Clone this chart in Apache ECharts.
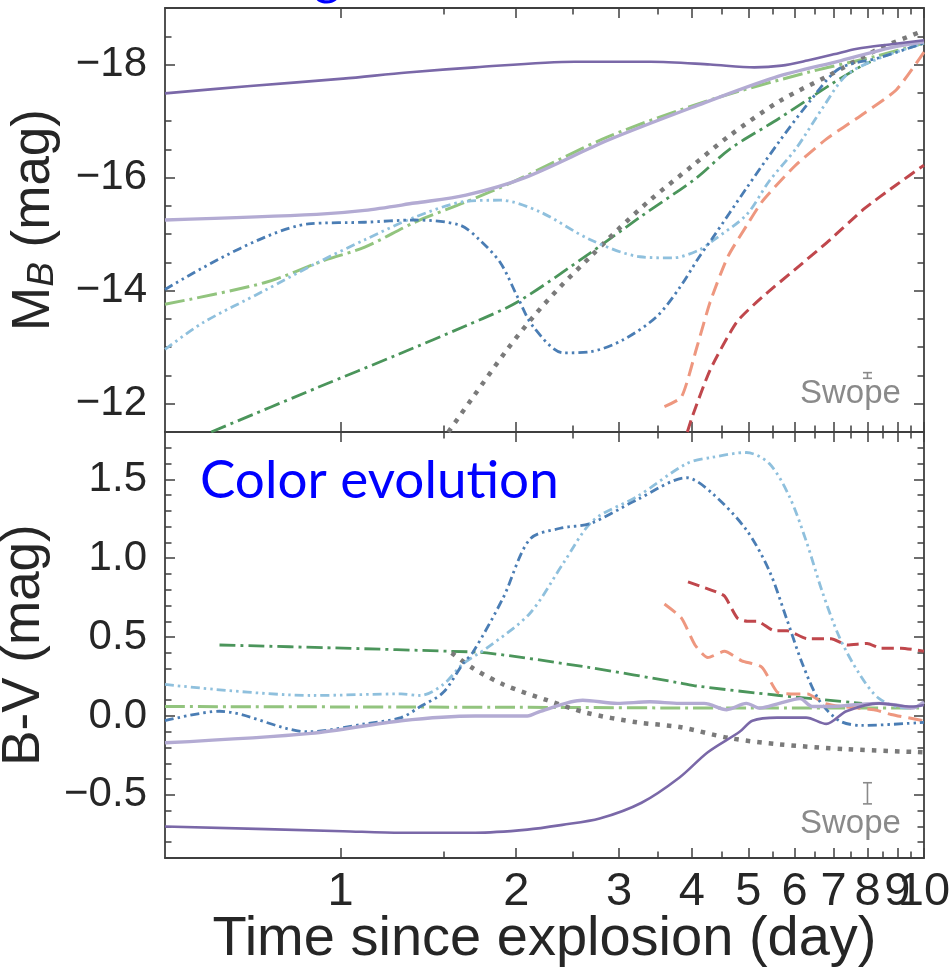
<!DOCTYPE html>
<html><head><meta charset="utf-8">
<script src="https://cdn.jsdelivr.net/npm/echarts@6/dist/echarts.min.js"></script>
<style>html,body{margin:0;padding:0;background:#fff}#c{width:950px;height:973px}</style>
</head><body><div id="c"></div>
<script>
// ---------- axis data ----------
const xMin = 0.5, xMax = 10;
const xMajorTicks = [1, 2, 3, 4, 5, 6, 7, 8, 9, 10];
const xTickLabels = ['1', '2', '3', '4', '5', '6', '7', '8', '9', '10'];
const xMinorTicks = [1.5, 2.5, 3.5, 4.5, 5.5, 6.5, 7.5, 8.5, 9.5];
const mbMin = -19, mbMax = -11.5;
const mbMajorTicks = [-18, -16, -14, -12];
const mbTickLabels = ['\u221218', '\u221216', '\u221214', '\u221212'];
const mbMinorTicks = [-18.5, -17.5, -17, -16.5, -15.5, -15, -14.5, -13.5, -13, -12.5];
const bvMin = -0.9, bvMax = 1.8;
const bvMajorTicks = [-0.5, 0, 0.5, 1.0, 1.5];
const bvTickLabels = ['\u22120.5', '0.0', '0.5', '1.0', '1.5'];
const bvMinorTicks = [-0.8, -0.7, -0.6, -0.4, -0.3, -0.2, -0.1, 0.1, 0.2, 0.3, 0.4, 0.6, 0.7, 0.8, 0.9, 1.1, 1.2, 1.3, 1.4, 1.6, 1.7];

// ---------- series data: [day, value] ----------
const darkPurpleMB = [[0.5,-17.49],[0.7,-17.62],[1.01,-17.75],[1.3,-17.86],[1.7,-17.95],[2.52,-18.05],[3.4,-18.05],[4.3,-18.0],[5.12,-17.95],[5.7,-17.98],[6.31,-18.07],[7.0,-18.18],[7.68,-18.28],[8.8,-18.36],[10,-18.43]];
const lightPurpleMB = [[0.5,-15.25],[0.91,-15.35],[1.1,-15.42],[1.34,-15.55],[1.64,-15.69],[2.07,-16.0],[2.87,-16.66],[4.0,-17.24],[5.54,-17.77],[7.21,-18.07],[8.78,-18.3],[10,-18.4]];
const lightGreenMB = [[0.5,-13.76],[0.74,-14.14],[0.94,-14.54],[1.1,-14.77],[1.34,-15.21],[1.64,-15.57],[2.0,-15.95],[2.87,-16.72],[4.26,-17.36],[6.31,-17.86],[8.3,-18.15],[10,-18.38]];
const darkGreenMB = [[0.6,-11.5],[0.91,-12.28],[1.26,-12.88],[1.64,-13.38],[2.01,-13.8],[2.68,-14.67],[3.26,-15.3],[4.08,-16.0],[4.64,-16.5],[5.65,-17.05],[6.88,-17.63],[7.83,-17.98],[8.1,-18.05]];
const darkBlueMB = [[0.5,-14.02],[0.88,-15.18],[1.1,-15.21],[1.34,-15.25],[1.6,-15.16],[1.73,-14.9],[1.88,-14.49],[2.01,-13.89],[2.14,-13.36],[2.41,-12.9],[2.68,-12.92],[3.05,-13.13],[3.48,-13.54],[3.81,-14.05],[4.12,-14.6],[4.34,-14.93],[4.96,-15.81],[5.65,-16.64],[6.43,-17.4],[7.16,-17.93],[8.38,-18.12],[10,-18.38]];
const lightBlueMB = [[0.5,-12.96],[0.58,-13.43],[0.74,-14.0],[0.91,-14.49],[1.1,-14.9],[1.34,-15.3],[1.64,-15.58],[1.88,-15.6],[2.2,-15.39],[2.68,-14.9],[3.26,-14.6],[3.71,-14.58],[4.12,-14.72],[4.34,-14.88],[4.96,-15.34],[5.43,-15.94],[6.04,-16.52],[6.69,-17.22],[7.36,-17.81],[8.38,-18.11],[10,-18.38]];
const grayMB = [[1.53,-11.5],[1.69,-12.13],[1.93,-12.96],[2.14,-13.54],[2.38,-14.07],[2.68,-14.6],[2.98,-15.07],[3.39,-15.6],[4.02,-16.22],[4.64,-16.74],[5.65,-17.35],[6.88,-17.81],[8.38,-18.28],[10,-18.6]];
const salmonMB = [[3.59,-11.95],[3.84,-12.12],[4.08,-13.0],[4.3,-13.8],[4.61,-14.6],[5.0,-15.2],[5.3,-15.6],[6.0,-16.2],[6.8,-16.68],[7.8,-17.1],[8.96,-17.55],[10,-18.22]];
const darkRedMB = [[3.93,-11.5],[4.0,-11.75],[4.3,-12.6],[4.78,-13.45],[5.3,-13.9],[6.1,-14.43],[6.9,-14.9],[7.9,-15.45],[8.96,-15.87],[10,-16.22]];

const darkPurpleBV = [[0.5,-0.70],[1.01,-0.73],[1.27,-0.74],[1.7,-0.74],[2.09,-0.72],[2.4,-0.69],[2.78,-0.65],[3.28,-0.55],[3.81,-0.39],[4.26,-0.23],[4.83,-0.10],[5.08,-0.03],[5.6,-0.01],[6.28,-0.01],[6.8,-0.05],[7.36,0.03],[8.38,0.08],[9.54,0.06],[10,0.07]];
const lightPurpleBV = [[0.5,-0.17],[0.89,-0.11],[1.27,-0.03],[1.7,0.0],[2.09,0.0],[2.2,0.03],[2.6,0.10],[2.98,0.08],[3.39,0.09],[3.81,0.08],[4.2,0.08],[4.59,0.04],[4.96,0.08],[5.23,0.05],[5.65,0.08],[6.13,0.11],[6.43,0.06],[6.88,0.06],[7.53,0.07],[8.38,0.08],[8.96,0.07],[9.54,0.05],[10,0.09]];
const lightGreenBV = [[0.5,0.06],[2.0,0.055],[5.0,0.05],[10,0.05]];
const darkGreenBV = [[0.62,0.45],[1.01,0.43],[1.54,0.41],[1.78,0.40],[2.64,0.31],[3.81,0.21],[4.08,0.19],[5.65,0.13],[7.83,0.08]];
const darkBlueBV = [[0.5,-0.03],[0.62,0.03],[0.88,-0.10],[1.1,-0.05],[1.27,-0.01],[1.37,0.06],[1.5,0.15],[1.62,0.33],[1.69,0.41],[1.9,0.75],[2.11,1.12],[2.38,1.19],[2.68,1.22],[3.22,1.37],[3.92,1.51],[4.34,1.41],[4.96,1.18],[5.43,0.92],[5.81,0.62],[6.19,0.33],[6.61,0.10],[7.16,-0.03],[7.83,-0.06],[10,-0.04]];
const lightBlueBV = [[0.5,0.20],[0.89,0.13],[1.27,0.14],[1.37,0.13],[1.5,0.2],[1.62,0.33],[1.78,0.43],[2.11,0.65],[2.41,0.97],[2.71,1.24],[3.22,1.39],[3.92,1.60],[4.34,1.64],[4.96,1.67],[5.43,1.60],[5.88,1.39],[6.28,1.11],[6.69,0.79],[7.16,0.50],[7.74,0.27],[8.38,0.11],[9.32,0.05],[10,0.07]];
const grayBV = [[1.55,0.40],[1.69,0.30],[1.9,0.20],[2.26,0.10],[2.64,0.02],[3.22,-0.04],[3.81,-0.07],[4.64,-0.14],[5.65,-0.18],[7.36,-0.21],[10,-0.23]];
const salmonBV = [[3.59,0.71],[3.84,0.62],[4.05,0.45],[4.26,0.37],[4.55,0.41],[4.87,0.35],[5.27,0.31],[5.61,0.15],[5.93,0.14],[6.31,0.14],[6.75,0.08],[7.21,0.06],[8.21,0.04],[8.78,0.01],[10,-0.03]];
const darkRedBV = [[3.94,0.85],[4.38,0.79],[4.55,0.76],[4.79,0.62],[4.98,0.60],[5.18,0.60],[5.54,0.54],[5.83,0.54],[6.31,0.49],[6.93,0.49],[7.39,0.45],[7.99,0.46],[8.44,0.43],[9.13,0.43],[10,0.41]];

// Swope error bars: [day, centre, half-error]
const swopeErrMB = [[8.0, -12.5, 0.05]];
const swopeErrBV = [[8.0, -0.49, 0.067]];

// ---------- styling ----------
const FONT = '"Liberation Sans", Arial, Helvetica, sans-serif';
const AX = '#3f3f3f';
const TXT = '#262626';
const styles = {
  darkPurple: {color: '#7a68a8', width: 2.6, type: 'solid', smooth: 0.3},
  lightPurple: {color: '#b3abd3', width: 3.4, type: 'solid', smooth: 0.3},
  lightGreen: {color: '#92c47e', width: 3, type: [20, 5, 3, 5], smooth: 0.3},
  darkGreen: {color: '#4b955b', width: 2.8, type: [16, 5, 3, 5], smooth: 0.3},
  darkBlue: {color: '#4a7db4', width: 2.8, type: [9, 4, 2.5, 4, 2.5, 4], smooth: 0.3},
  lightBlue: {color: '#8fc0dd', width: 2.8, type: [9, 4, 2.5, 4, 2.5, 4], smooth: 0.3},
  gray: {color: '#7a7a7a', width: 4.5, type: [4.5, 7], smooth: 0.3},
  salmon: {color: '#ee977f', width: 3, type: [14, 7], smooth: 0.2},
  darkRed: {color: '#c0474c', width: 3, type: [12, 6], smooth: 0.2}
};
const seriesDefs = [
  ['darkGreen', darkGreenMB, darkGreenBV],
  ['lightGreen', lightGreenMB, lightGreenBV],
  ['gray', grayMB, grayBV],
  ['darkRed', darkRedMB, darkRedBV],
  ['salmon', salmonMB, salmonBV],
  ['lightBlue', lightBlueMB, lightBlueBV],
  ['darkBlue', darkBlueMB, darkBlueBV],
  ['lightPurple', lightPurpleMB, lightPurpleBV],
  ['darkPurple', darkPurpleMB, darkPurpleBV]
];

function pick(ticks, labels, v) {
  for (let i = 0; i < ticks.length; i++) if (Math.abs(ticks[i] - v) < 1e-6) return labels[i];
  return '';
}

function xAx(grid, position, ticks, len, labelTicks, withLine, name) {
  return {
    type: 'log', logBase: 10, gridIndex: grid, position: position, min: xMin, max: xMax,
    axisLine: {show: withLine, onZero: false, lineStyle: {color: AX, width: 1.8}},
    axisTick: {show: true, inside: true, length: len, customValues: ticks, lineStyle: {color: AX, width: 1.5}},
    axisLabel: labelTicks ? {
      show: true, customValues: labelTicks, margin: 11, fontSize: 47, color: TXT, fontFamily: FONT,
      hideOverlap: false, showMinLabel: true, showMaxLabel: true,
      formatter: v => pick(xMajorTicks, xTickLabels, v)
    } : {show: false},
    splitLine: {show: false}, minorTick: {show: false}, minorSplitLine: {show: false},
    name: name || '',
    nameLocation: 'middle', nameGap: 54, nameMoveOverlap: false,
    nameTextStyle: {fontSize: 56, color: TXT, fontFamily: FONT}
  };
}

function yAx(grid, position, min, max, inverse, ticks, len, labelTicks, labelTexts, withLine, name, nameGap) {
  return {
    type: 'value', gridIndex: grid, position: position, min: min, max: max, inverse: inverse,
    axisLine: {show: withLine, onZero: false, lineStyle: {color: AX, width: 1.8}},
    axisTick: {show: true, inside: true, length: len, customValues: ticks, lineStyle: {color: AX, width: 1.5}},
    axisLabel: labelTicks ? {
      show: true, customValues: labelTicks, margin: 18, fontSize: 42, color: TXT, fontFamily: FONT,
      hideOverlap: false, formatter: v => pick(labelTicks, labelTexts, v)
    } : {show: false},
    splitLine: {show: false}, minorTick: {show: false}, minorSplitLine: {show: false},
    name: name || '', nameLocation: 'middle', nameGap: nameGap || 0, nameMoveOverlap: false,
    nameTextStyle: {
      fontSize: 53, color: TXT, fontFamily: FONT,
      rich: {
        a: {fontSize: 53, fontFamily: FONT, color: TXT, verticalAlign: 'bottom'},
        b: {fontSize: 37, fontFamily: FONT, color: TXT, fontStyle: 'italic', verticalAlign: 'bottom'}
      }
    }
  };
}

const xAxes = [
  xAx(0, 'bottom', xMajorTicks, 10, null, true),
  xAx(0, 'bottom', xMinorTicks, 6.5, null, false),
  xAx(0, 'top', xMajorTicks, 10, null, true),
  xAx(0, 'top', xMinorTicks, 6.5, null, false),
  xAx(1, 'bottom', xMajorTicks, 10, xMajorTicks.slice(0, 9), true, 'Time since explosion (day)'),
  xAx(1, 'bottom', xMinorTicks, 6.5, xMajorTicks.slice(9), false),
  xAx(1, 'top', xMajorTicks, 10, null, true),
  xAx(1, 'top', xMinorTicks, 6.5, null, false)
];
const yAxes = [
  yAx(0, 'left', mbMin, mbMax, true, mbMajorTicks, 10, mbMajorTicks, mbTickLabels, true, '{a|M}{b|B}{a| (mag)}', 104),
  yAx(0, 'left', mbMin, mbMax, true, mbMinorTicks, 6.5, null, null, false),
  yAx(0, 'right', mbMin, mbMax, true, mbMajorTicks, 10, null, null, true),
  yAx(0, 'right', mbMin, mbMax, true, mbMinorTicks, 6.5, null, null, false),
  yAx(1, 'left', bvMin, bvMax, false, bvMajorTicks, 10, bvMajorTicks, bvTickLabels, true, '{a|B-V (mag)}', 114),
  yAx(1, 'left', bvMin, bvMax, false, bvMinorTicks, 6.5, null, null, false),
  yAx(1, 'right', bvMin, bvMax, false, bvMajorTicks, 10, null, null, true),
  yAx(1, 'right', bvMin, bvMax, false, bvMinorTicks, 6.5, null, null, false)
];

const series = [];
seriesDefs.forEach(([key, mb, bv]) => {
  const s = styles[key];
  [[mb, 0], [bv, 4]].forEach(([data, ax]) => {
    series.push({
      type: 'line', name: key, xAxisIndex: ax, yAxisIndex: ax, data: data,
      showSymbol: false, smooth: s.smooth, clip: true, silent: true,
      lineStyle: {color: s.color, width: s.width, type: s.type, cap: 'butt', join: 'round'}
    });
  });
});

function errRender(params, api) {
  const lo = api.coord([api.value(0), api.value(1)]);
  const hi = api.coord([api.value(0), api.value(2)]);
  const w = 4.5;
  const st = {stroke: '#8a8a8a', lineWidth: 1.6};
  return {type: 'group', children: [
    {type: 'line', shape: {x1: lo[0], y1: lo[1], x2: hi[0], y2: hi[1]}, style: st},
    {type: 'line', shape: {x1: lo[0] - w, y1: lo[1], x2: lo[0] + w, y2: lo[1]}, style: st},
    {type: 'line', shape: {x1: hi[0] - w, y1: hi[1], x2: hi[0] + w, y2: hi[1]}, style: st}
  ]};
}
[[swopeErrMB, 0], [swopeErrBV, 4]].forEach(([arr, ax]) => {
  series.push({
    type: 'custom', xAxisIndex: ax, yAxisIndex: ax, silent: true,
    data: arr.map(d => [d[0], d[1] - d[2], d[1] + d[2]]),
    encode: {x: 0, y: [1, 2]}, renderItem: errRender
  });
});

const chart = echarts.init(document.getElementById('c'), null, {renderer: 'canvas'});
chart.setOption({
  animation: false,
  backgroundColor: '#ffffff',
  textStyle: {fontFamily: FONT},
  grid: [
    {left: 165, top: 8, width: 759, height: 424, containLabel: false, outerBoundsMode: 'none'},
    {left: 165, top: 432, width: 759, height: 426, containLabel: false, outerBoundsMode: 'none'}
  ],
  xAxis: xAxes,
  yAxis: yAxes,
  series: series,
  graphic: [
    {type: 'text', left: 242, top: -48, silent: true,
     style: {text: 'Magnitude evolution', font: '51px Lato, "Open Sans", sans-serif', fill: '#0000ff'}},
    {type: 'text', x: 200, y: 481, silent: true,
     style: {text: 'Color evolution', font: '53px Lato, "Open Sans", sans-serif', fill: '#0000ff', verticalAlign: 'middle', align: 'left'}},
    {type: 'text', x: 800, y: 394, silent: true,
     style: {text: 'Swope', font: '33px "Liberation Sans", Arial, sans-serif', fill: '#8a8a8a', verticalAlign: 'middle', align: 'left'}},
    {type: 'text', x: 800, y: 824, silent: true,
     style: {text: 'Swope', font: '33px "Liberation Sans", Arial, sans-serif', fill: '#8a8a8a', verticalAlign: 'middle', align: 'left'}}
  ]
});
</script></body></html>
